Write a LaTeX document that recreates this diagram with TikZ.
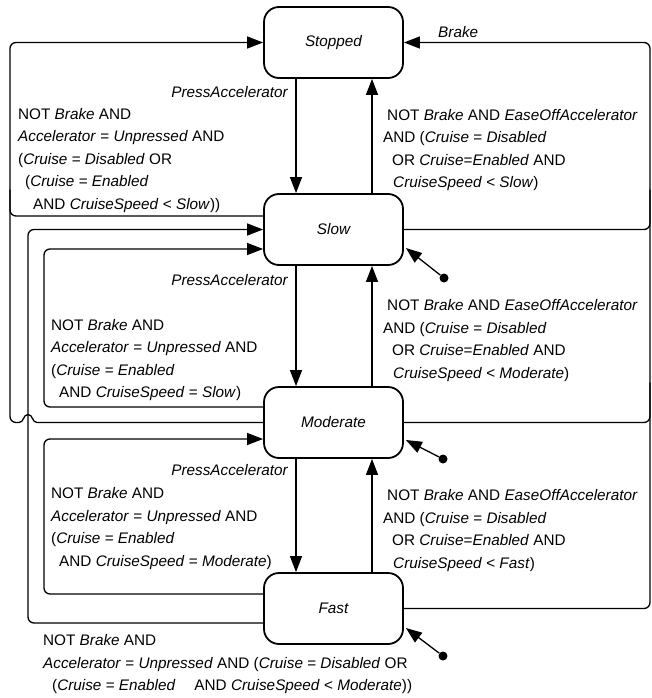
\documentclass[tikz,border=0pt]{standalone}
\usepackage{fontspec}
\setmainfont{Liberation Sans}
\usetikzlibrary{arrows.meta,calc}

\newcommand{\labelfont}{\fontsize{15.3}{22.5}\selectfont}

\begin{document}
\begin{tikzpicture}[x=1pt,y=-1pt,
  state/.style={draw, line width=1.8pt, rounded corners=15pt,
    minimum width=139pt, minimum height=71pt, inner sep=0pt,
    font=\labelfont\itshape},
  wire/.style={line width=1.3pt, rounded corners=6pt},
  trans/.style={wire, -{Triangle[length=16pt,width=12pt]}},
  guard/.style={anchor=north west, align=left, inner sep=0pt, font=\labelfont},
  event/.style={inner sep=0pt, font=\labelfont\itshape},
  entrydot/.style={circle, fill, inner sep=0pt, minimum size=9pt}
]
\useasboundingbox (0,0) rectangle (652,698);

% states
\node[state] (stopped)  at (333.5,42.5)  {Stopped};
\node[state] (slow)     at (333.5,229.5) {Slow};
\node[state] (moderate) at (333.5,422.5) {Moderate};
\node[state] (fast)     at (333.5,608.5) {Fast};

% routing lanes
\coordinate (outerL) at (10,0);
\coordinate (midL)   at (28,0);
\coordinate (innerL) at (44,0);
\coordinate (outerR) at (650,0);

% speeding up / easing off
\draw[trans] ([xshift=-37.5pt]stopped.south) -- ([xshift=-37.5pt]slow.north);
\draw[trans] ([xshift=38.5pt]slow.north) -- ([xshift=38.5pt]stopped.south);
\draw[trans] ([xshift=-37.5pt]slow.south) -- ([xshift=-37.5pt]moderate.north);
\draw[trans] ([xshift=38.5pt]moderate.north) -- ([xshift=38.5pt]slow.south);
\draw[trans] ([xshift=-37.5pt]moderate.south) -- ([xshift=-37.5pt]fast.north);
\draw[trans] ([xshift=38.5pt]fast.north) -- ([xshift=38.5pt]moderate.south);

% back to Stopped on the outer left lane (hopping over the middle lane)
\draw[wire] ($(slow.west)+(0,-13.5)$) -| ($(outerL |- slow.west)+(0,-40)$);
\coordinate (hopR) at ($(midL |- moderate.west)+(9,0)$);
\coordinate (hopT) at ($(midL |- moderate.west)+(0,-8)$);
\coordinate (hopL) at ($(midL |- moderate.west)+(-9,0)$);
\draw[wire, sharp corners] (moderate.west) -- (hopR)
  .. controls +(-5,0) and +(5,0) .. (hopT)
  .. controls +(-5,0) and +(5,0) .. (hopL);
\draw[trans] (hopL) -| (outerL |- stopped.west) -- (stopped.west);

% back to Slow
\draw[trans] ($(fast.west)+(0,14.5)$) -| (midL |- slow.west) -- (slow.west);
\draw[trans] ($(moderate.west)+(0,-15.5)$) -| ($(innerL |- slow.west)+(0,19.5)$)
  -- ($(slow.west)+(0,19.5)$);

% back to Moderate
\draw[trans] ($(fast.west)+(0,-14.5)$) -| ($(innerL |- moderate.west)+(0,16.5)$)
  -- ($(moderate.west)+(0,16.5)$);

% Brake from every moving state
\draw[trans] (fast.east) -| (outerR |- stopped.east) -- (stopped.east);
\draw[wire] (slow.east) -| ($(outerR |- slow.east)+(0,-40)$);
\draw[wire] (moderate.east) -| ($(outerR |- moderate.east)+(0,-40)$);

% entry points
\node[entrydot] (e1) at (444,278) {};
\node[entrydot] (e2) at (443,459) {};
\node[entrydot] (e3) at (443,656) {};
\draw[trans] (e1) -- ($(slow.east)+(2,18.5)$);
\draw[trans] (e2) -- ($(moderate.east)+(2,17.5)$);
\draw[trans] (e3) -- ($(fast.east)+(2,19.5)$);

% events
\node[event, anchor=north east] (pa1) at (288,86)  {PressAccelerator};
\node[event, anchor=north east] (pa2) at (288,274) {PressAccelerator};
\node[event, anchor=north east] (pa3) at (288,464) {PressAccelerator};
\node[event, anchor=north west] (brk) at (438,26.5) {Brake};

% guards, left side
\node[guard] (g1) at (18,108) {NOT \textit{Brake} AND\\
\textit{Accelerator} = \textit{Unpressed} AND\\
(\textit{Cruise} = \textit{Disabled} OR\\
\hspace*{7pt}(\textit{Cruise} = \textit{Enabled}\\
\hspace*{15pt}AND \textit{CruiseSpeed} < \textit{Slow}))};

\node[guard] (g2) at (51,319) {NOT \textit{Brake} AND\\
\textit{Accelerator} = \textit{Unpressed} AND\\
(\textit{Cruise} = \textit{Enabled}\\
\hspace*{8pt}AND \textit{CruiseSpeed} = \textit{Slow})};

\node[guard] (g3) at (51,487.5) {NOT \textit{Brake} AND\\
\textit{Accelerator} = \textit{Unpressed} AND\\
(\textit{Cruise} = \textit{Enabled}\\
\hspace*{8pt}AND \textit{CruiseSpeed} = \textit{Moderate})};

\node[guard] (g4) at (43,634.5) {NOT \textit{Brake} AND\\
\textit{Accelerator} = \textit{Unpressed} AND (\textit{Cruise} = \textit{Disabled} OR\\
\hspace*{9pt}(\textit{Cruise} = \textit{Enabled}\hspace*{19pt}AND \textit{CruiseSpeed} < \textit{Moderate}))};

% guards, right side
\node[guard] (g5) at (383,109) {\hspace*{4pt}NOT \textit{Brake} AND \textit{EaseOffAccelerator}\\
AND (\textit{Cruise} = \textit{Disabled}\\
\hspace*{9pt}OR \textit{Cruise}=\textit{Enabled} AND\\
\hspace*{10pt}\textit{CruiseSpeed} < \textit{Slow})};

\node[guard] (g6) at (383,299.5) {\hspace*{4pt}NOT \textit{Brake} AND \textit{EaseOffAccelerator}\\
AND (\textit{Cruise} = \textit{Disabled}\\
\hspace*{9pt}OR \textit{Cruise}=\textit{Enabled} AND\\
\hspace*{10pt}\textit{CruiseSpeed} < \textit{Moderate})};

\node[guard] (g7) at (383,489.5) {\hspace*{4pt}NOT \textit{Brake} AND \textit{EaseOffAccelerator}\\
AND (\textit{Cruise} = \textit{Disabled}\\
\hspace*{9pt}OR \textit{Cruise}=\textit{Enabled} AND\\
\hspace*{10pt}\textit{CruiseSpeed} < \textit{Fast})};
\end{tikzpicture}
\end{document}
